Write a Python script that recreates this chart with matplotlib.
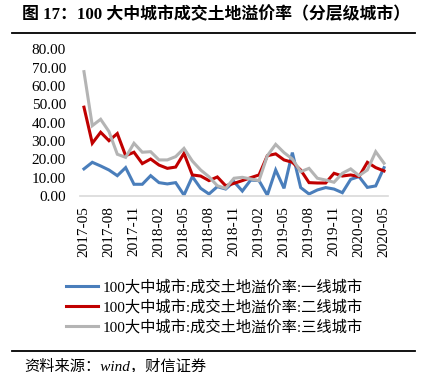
import matplotlib
matplotlib.use("Agg")
import matplotlib.pyplot as plt
from matplotlib.lines import Line2D

months = ["2017-05", "2017-06", "2017-07", "2017-08", "2017-09", "2017-10", "2017-11", "2017-12",
          "2018-01", "2018-02", "2018-03", "2018-04", "2018-05", "2018-06", "2018-07", "2018-08",
          "2018-09", "2018-10", "2018-11", "2018-12", "2019-01", "2019-02", "2019-03", "2019-04",
          "2019-05", "2019-06", "2019-07", "2019-08", "2019-09", "2019-10", "2019-11", "2019-12",
          "2020-01", "2020-02", "2020-03", "2020-04", "2020-05"]
tier1 = [14.8, 18.4, 16.4, 14.2, 11.1, 15.5, 6.4, 6.4, 11.1, 7.3, 6.6, 7.3, 0.5, 10.6, 4.2, 1.1,
         5.1, 3.8, 7.8, 2.7, 8.7, 8.4, 0.5, 14.2, 4.2, 23.7, 4.6, 1.1, 3.3, 4.6, 3.8, 1.8,
         9.1, 10.6, 4.7, 5.5, 15.5]
tier2 = [48.5, 28.8, 34.8, 30.2, 34.1, 22.0, 23.9, 17.7, 20.2, 16.9, 15.1, 15.8, 23.3, 11.5, 10.9, 8.4,
         10.4, 5.6, 6.9, 8.4, 10.0, 11.5, 22.0, 23.0, 19.7, 18.4, 14.2, 7.3, 7.1, 7.1, 12.4, 10.9,
         11.5, 10.6, 18.4, 15.5, 13.7]
tier3 = [67.9, 38.4, 41.9, 35.2, 22.8, 21.1, 28.8, 23.9, 24.2, 19.7, 19.7, 21.5, 26.0, 19.1, 14.2, 10.5,
         5.6, 4.2, 9.7, 10.2, 9.3, 8.4, 22.0, 28.2, 23.7, 20.2, 13.3, 15.1, 9.7, 8.7, 7.5, 12.4,
         14.8, 11.1, 14.2, 24.2, 17.9]
series_names = ["100大中城市:成交土地溢价率:一线城市",
                "100大中城市:成交土地溢价率:二线城市",
                "100大中城市:成交土地溢价率:三线城市"]
colors = ["#4a7ebb", "#c00000", "#b4b4b4"]
yticks = [0, 10, 20, 30, 40, 50, 60, 70, 80]
title = "图 17：100 大中城市成交土地溢价率（分层级城市）"
source = "资料来源：wind，财信证券"

SERIF = ["Liberation Serif", "Noto Sans CJK SC"]

W, H = 423, 372
fig = plt.figure(figsize=(W / 100, H / 100), dpi=100)

ax_l, ax_r = 79.8, 388.2
ax_b, ax_t = 196.0, 49.5
ax = fig.add_axes([ax_l / W, 1 - ax_b / H, (ax_r - ax_l) / W, (ax_b - ax_t) / H])

x = list(range(len(months)))
for vals, c, name in zip([tier1, tier2, tier3], colors, series_names):
    ax.plot(x, vals, color=c, lw=2.2, label=name, solid_joinstyle="miter")

ax.set_xlim(-0.5, len(months) - 0.5)
ax.set_ylim(0, 80)
ax.set_yticks(yticks)
ax.set_yticklabels([f"{v:.2f}" for v in yticks], family="Liberation Serif", fontsize=11)
tick_idx = list(range(0, len(months), 3))
ax.set_xticks(tick_idx)
ax.set_xticklabels([months[i] for i in tick_idx], rotation=90, family="Liberation Serif", fontsize=11)
ax.tick_params(axis="x", length=0, pad=7)
ax.tick_params(axis="y", length=0, pad=10)
for s in ["top", "right", "left"]:
    ax.spines[s].set_visible(False)
ax.spines["bottom"].set_color("#d9d9d9")
ax.spines["bottom"].set_linewidth(1.2)

handles = [Line2D([], [], color=c, lw=2.2) for c in colors]
fig.legend(handles, series_names, loc="upper center", bbox_to_anchor=(214 / W, 1 - 272 / H),
           frameon=False, ncol=1, prop={"family": SERIF, "size": 11},
           handlelength=2.1, handletextpad=0.3, labelspacing=0.35, borderpad=0)

# title and rules
fig.text(22 / W, 1 - 15 / H, title, family=SERIF, fontsize=12.2, fontweight="bold",
         ha="left", va="center")
fig.add_artist(Line2D([12 / W, 415 / W], [1 - 33 / H, 1 - 33 / H], color="black", lw=1.3))
fig.add_artist(Line2D([12 / W, 415 / W], [1 - 351 / H, 1 - 351 / H], color="black", lw=1.3))
fig.text(24 / W, 1 - 366 / H, source, family=SERIF, fontsize=11, style="italic",
         ha="left", va="center")

fig.savefig("out.png", dpi=100)
